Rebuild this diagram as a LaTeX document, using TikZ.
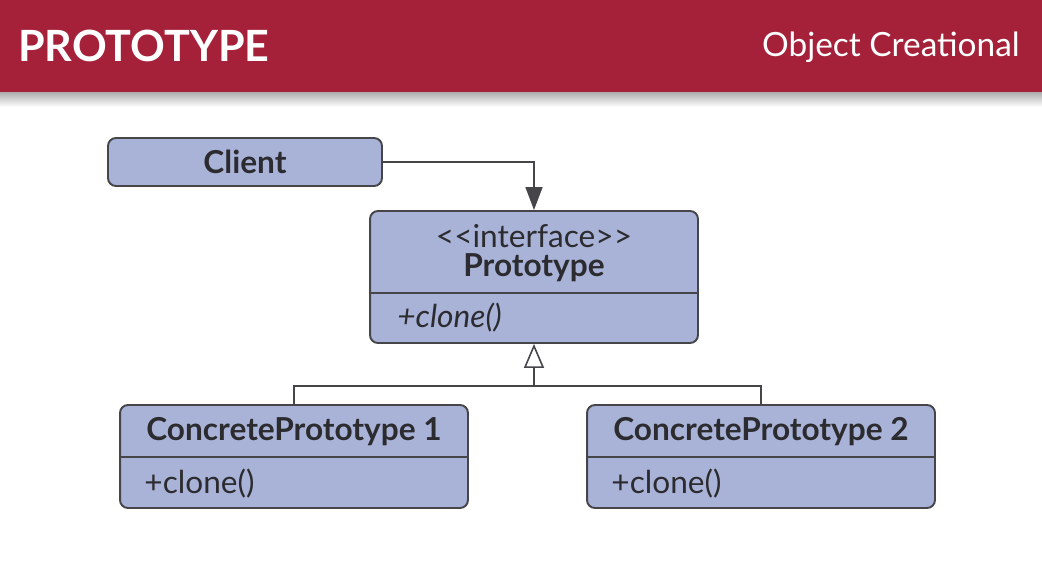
\documentclass[tikz,border=0pt]{standalone}
\usepackage{fontspec}
\setmainfont{Lato}
\usetikzlibrary{calc}
\usetikzlibrary{arrows.meta}
\definecolor{hdrred}{HTML}{A52139}
\definecolor{boxblue}{HTML}{A9B3D7}
\definecolor{boxline}{HTML}{46464A}
\definecolor{txt}{HTML}{2C2C30}

\begin{document}
\begin{tikzpicture}[x=0.02cm, y=-0.02cm,
 umlbox/.style={draw=boxline, fill=boxblue, line width=1.1pt, rounded corners=4.5pt, inner sep=0},
 lbl/.style={txt, inner sep=0, font=\fontsize{18}{21}\selectfont},
 conn/.style={boxline, line width=0.9pt}]
\useasboundingbox (0,0) rectangle (1042,564);
\fill[hdrred] (0,0) rectangle (1042,93);
\shade[top color=black!30, bottom color=white] (0,93) rectangle (1042,107);
\node[white, inner sep=0, anchor=base west, font=\fontsize{24.5}{28}\selectfont\bfseries] (title) at (18,62) {PROTOTYPE};
\node[white, inner sep=0, anchor=base east, font=\fontsize{19}{22}\selectfont] (kind) at (1020,57) {Object Creational};

\node[umlbox, minimum width=5.48cm, minimum height=0.96cm] (client) at (245,162) {};
\node[lbl, font=\fontsize{18}{21}\selectfont\bfseries] (cname) at (245,162) {Client};

\node[umlbox, minimum width=6.56cm, minimum height=2.64cm] (proto) at (534,277) {};
\draw[boxline, line width=1.1pt] (proto.west |- 0,293) -- (proto.east |- 0,293);
\node[lbl] (iface) at (534,236) {<\kern0pt<interface>\kern0pt>};
\node[lbl, font=\fontsize{18}{21}\selectfont\bfseries] (pname) at (534,268) {Prototype};
\node[lbl, anchor=west, font=\fontsize{18}{21}\selectfont\itshape] (pclone) at (397,318) {+clone()};

\foreach \i/\x in {1/294,2/761} {
 \node[umlbox, minimum width=6.96cm, minimum height=2.06cm] (cp\i) at (\x,456.5) {};
 \draw[boxline, line width=1.1pt] (cp\i.west |- 0,457) -- (cp\i.east |- 0,457);
 \node[lbl, font=\fontsize{18}{21}\selectfont\bfseries] (cpname\i) at (\x,432) {ConcretePrototype \i};
 \node[lbl, anchor=west] (cpclone\i) at ($(cp\i.west)+(25,27)$) {+clone()};
}

\draw[conn, -{Triangle[length=0.46cm, width=0.34cm]}] (client.east) -| (proto.north);
\coordinate (bus) at (534,386);
\draw[conn] (cp1.north) |- (bus) -| (cp2.north);
\draw[conn, -{Triangle[open, length=0.48cm, width=0.4cm, fill=white]}] (bus) -- (proto.south);
\end{tikzpicture}
\end{document}
